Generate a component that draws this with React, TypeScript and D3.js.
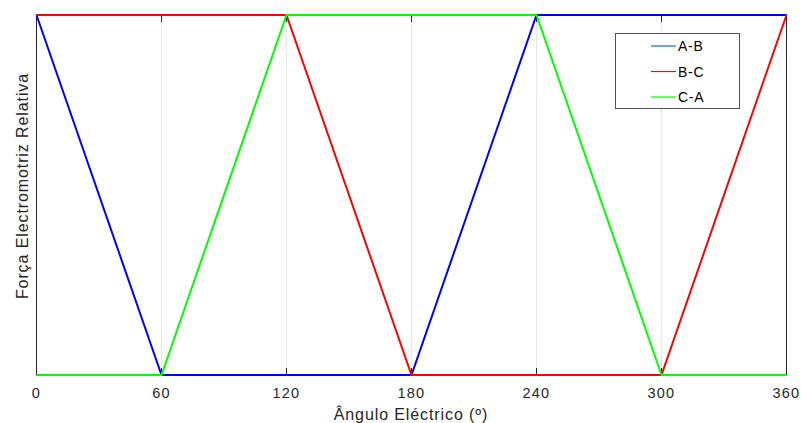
import React from "react";
import * as d3 from "d3";

const angles = [0, 60, 120, 180, 240, 300, 360];
const abValues = [1, 0, 0, 0, 1, 1, 1];
const bcValues = [1, 1, 1, 0, 0, 0, 1];
const caValues = [0, 0, 1, 1, 1, 0, 0];
const xTicks = [0, 60, 120, 180, 240, 300, 360];
const seriesNames = ["A-B", "B-C", "C-A"];
const seriesColors = ["#0000ff", "#ff0000", "#00ff00"];
const legendColors = ["#0072bd", "#ff0000", "#00ff00"];

const W = 801, H = 423;
const left = 36.5, right = 786.5, top = 15, bottom = 375;

export default function App() {
  const x = d3.scaleLinear().domain([0, 360]).range([left, right]);
  const y = d3.scaleLinear().domain([0, 1]).range([bottom, top]);
  const line = d3.line<number>().x((_, i) => x(angles[i])).y((v) => y(v));
  const all = [abValues, bcValues, caValues];
  const font = "'Liberation Sans', Arial, Helvetica, sans-serif";
  return (
    <svg width={W} height={H} style={{ position: "absolute", left: 0, top: 0 }}>
      <rect x={0} y={0} width={W} height={H} fill="#fff" />
      {xTicks.slice(1, -1).map((t) => (
        <line key={t} x1={x(t)} x2={x(t)} y1={top} y2={bottom} stroke="#e6e6e6" strokeWidth={1} />
      ))}
      <rect x={left} y={top} width={right - left} height={bottom - top} fill="none" stroke="#262626" strokeWidth={1} />
      {xTicks.map((t) => (
        <g key={t}>
          <line x1={x(t)} x2={x(t)} y1={bottom} y2={bottom - 7} stroke="#262626" />
          <line x1={x(t)} x2={x(t)} y1={top} y2={top + 7} stroke="#262626" />
          <text x={x(t)} y={398} textAnchor="middle" fontFamily={font} fontSize={14.5} letterSpacing={1.2} fill="#262626">{t}</text>
        </g>
      ))}
      {all.map((vals, i) => (
        <path key={i} d={line(vals) || ""} fill="none" stroke={seriesColors[i]} strokeWidth={2} />
      ))}
      <text x={411} y={420} textAnchor="middle" fontFamily={font} fontSize={16} letterSpacing={0.9} fill="#262626">Ângulo Eléctrico (º)</text>
      <text transform="translate(28,186) rotate(-90)" textAnchor="middle" fontFamily={font} fontSize={16} letterSpacing={0.9} fill="#262626">Força Electromotriz Relativa</text>
      <rect x={615.5} y={33.5} width={124} height={75} fill="#fff" stroke="#262626" strokeOpacity={0.8} strokeWidth={1} />
      {seriesNames.map((n, i) => (
        <g key={n}>
          <line x1={651} x2={676} y1={46 + i * 25.5} y2={46 + i * 25.5} stroke={legendColors[i]} strokeWidth={1.2} />
          <text x={678} y={51 + i * 25.5} fontFamily={font} fontSize={14} letterSpacing={0.7} fill="#000">{n}</text>
        </g>
      ))}
    </svg>
  );
}
